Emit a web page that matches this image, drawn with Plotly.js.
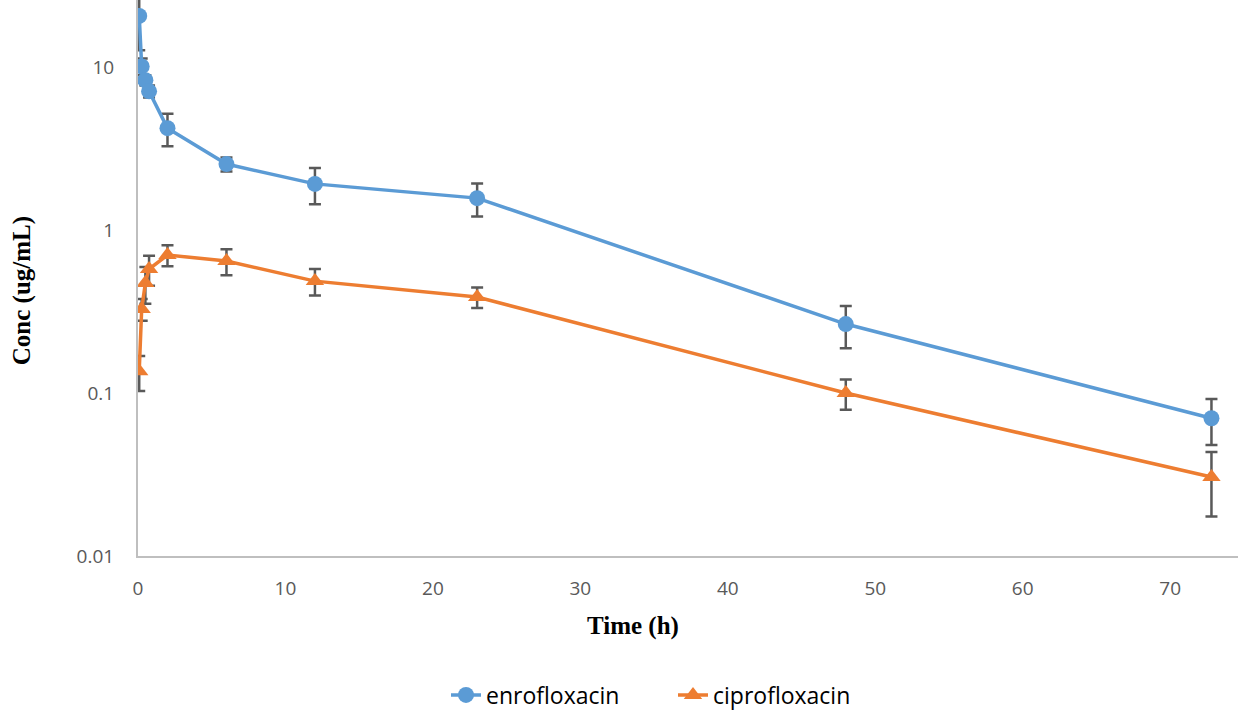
<!DOCTYPE html>
<html>
<head>
<meta charset="utf-8">
<script src="https://cdn.plot.ly/plotly-3.0.1.min.js"></script>
<style>
  html, body { margin: 0; padding: 0; background: #fff; }
  #chart { width: 1240px; height: 710px; }
</style>
</head>
<body>
<div id="chart"></div>
<script>
// Sampling times (h)
const timeH = [0.083, 0.25, 0.5, 0.75, 2, 6, 12, 23, 48, 72.8];

// Mean plasma concentrations (ug/mL) and their standard deviations
const enroConc = [20.6, 10.1, 8.3, 7.1, 4.22, 2.54, 1.92, 1.57, 0.265, 0.070];
const enroSD   = [7.9, 1.2, 0.6, 0.6, 0.95, 0.25, 0.48, 0.36, 0.077, 0.022];

const ciproConc = [0.136, 0.328, 0.473, 0.576, 0.703, 0.645, 0.486, 0.388, 0.100, 0.0305];
const ciproSD   = [0.033, 0.05, 0.12, 0.12, 0.104, 0.117, 0.09, 0.056, 0.021, 0.013];

const xTicks = [0, 10, 20, 30, 40, 50, 60, 70];
const yTicks = [0.01, 0.1, 1, 10];
const yTickText = ['0.01', '0.1', '1', '10'];

const xTitle = 'Time (h)';
const yTitle = 'Conc (ug/mL)';

const errStyle = { type: 'data', visible: true, color: '#595959', thickness: 2.5, width: 6 };

const traces = [
  {
    name: 'enrofloxacin',
    x: timeH, y: enroConc,
    mode: 'lines+markers', type: 'scatter',
    line: { color: '#5B9BD5', width: 3.5 },
    marker: { symbol: 'circle', size: 16, color: '#5B9BD5' },
    error_y: Object.assign({ array: enroSD }, errStyle)
  },
  {
    name: 'ciprofloxacin',
    x: timeH, y: ciproConc,
    mode: 'lines+markers', type: 'scatter',
    line: { color: '#ED7D31', width: 3.5 },
    marker: { symbol: 'triangle-up', size: 16, color: '#ED7D31' },
    error_y: Object.assign({ array: ciproSD }, errStyle)
  }
];

const tickFont = { family: 'Open Sans, Noto Sans, sans-serif', size: 19, color: '#595959' };
const titleFont = { family: 'Liberation Serif, Times New Roman, serif', size: 25, color: '#000', weight: 'bold' };

const layout = {
  width: 1240, height: 710,
  margin: { l: 138, r: 2, t: 0, b: 154, autoexpand: false },
  paper_bgcolor: '#fff', plot_bgcolor: '#fff',
  showlegend: true,
  legend: {
    orientation: 'h', x: 0.28, xanchor: 'left', y: -0.25, yanchor: 'middle',
    font: { family: 'Open Sans, Noto Sans, sans-serif', size: 23, color: '#000' },
    entrywidth: 182, entrywidthmode: 'pixels'
  },
  xaxis: {
    range: [0, 74.6],
    tickvals: xTicks,
    showgrid: false, zeroline: false,
    showline: true, linecolor: '#BFBFBF', linewidth: 2,
    ticks: '', ticklabelstandoff: 14,
    tickfont: tickFont
  },
  yaxis: {
    type: 'log',
    range: [Math.log10(0.01), Math.log10(25.8)],
    tickvals: yTicks, ticktext: yTickText,
    showgrid: false, zeroline: false,
    showline: true, linecolor: '#BFBFBF', linewidth: 2,
    ticks: '', ticklabelstandoff: 18,
    tickfont: tickFont
  },
  annotations: [
    {
      text: xTitle, xref: 'paper', yref: 'paper', x: 0.45, y: -0.126,
      xanchor: 'center', yanchor: 'middle', showarrow: false, font: titleFont
    },
    {
      text: yTitle, xref: 'paper', yref: 'paper', x: -0.1055, y: 0.478,
      xanchor: 'center', yanchor: 'middle', textangle: -90, showarrow: false, font: titleFont
    }
  ]
};

Plotly.newPlot('chart', traces, layout, { displayModeBar: false, staticPlot: true });
</script>
</body>
</html>
